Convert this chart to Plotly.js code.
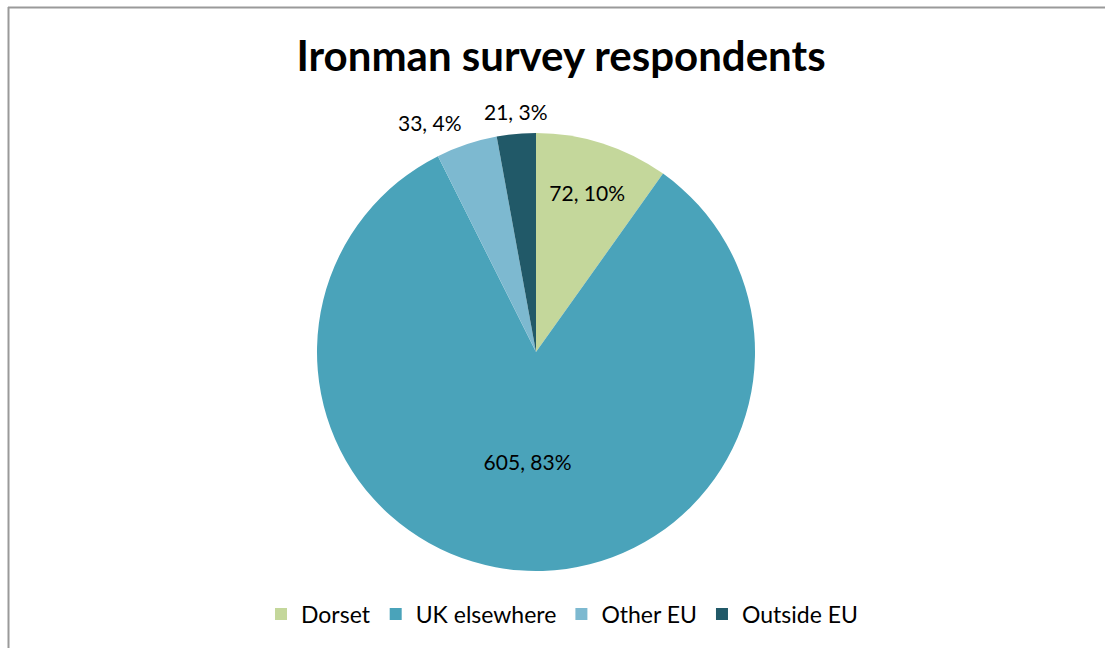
<!DOCTYPE html>
<html><head><meta charset="utf-8">
<script src="https://cdn.plot.ly/plotly-3.0.1.min.js"></script>
<style>html,body{margin:0;padding:0;background:#fff}#chart{width:1105px;height:648px}</style>
</head><body><div id="chart"></div>
<script>
const categories = ['Dorset', 'UK elsewhere', 'Other EU', 'Outside EU'];
const counts = [72, 605, 33, 21];
const pctLabels = ['10%', '83%', '4%', '3%'];
const colors = ['#C4D79B', '#4AA3BA', '#7DB9D0', '#215968'];
const labelPlacement = ['inside', 'inside', 'outside', 'outside'];

const W = 1105, H = 648;
const cx = 536, cy = 352, r = 219;
const FONT = 'Lato, "Open Sans", sans-serif';
const labels = counts.map((v, i) => v + ', ' + pctLabels[i]);

// outside labels drawn as annotations at each slice's mid-angle (from the data)
const total = counts.reduce((a, b) => a + b, 0);
let cum = 0;
const annotations = [];
counts.forEach((v, i) => {
  const mid = (cum + v / 2) / total * 2 * Math.PI; // clockwise from 12 o'clock
  cum += v;
  if (labelPlacement[i] !== 'outside') return;
  const rr = r + 8;
  const px = cx + rr * Math.sin(mid);
  const py = cy - rr * Math.cos(mid);
  const s = Math.sin(mid);
  annotations.push({
    xref: 'paper', yref: 'paper', x: px / W, y: 1 - py / H,
    text: labels[i], showarrow: false,
    xanchor: Math.abs(s) < 0.2 ? 'center' : (s < 0 ? 'right' : 'left'),
    yanchor: Math.cos(mid) > 0 ? 'bottom' : 'top',
    font: { family: FONT, size: 21, color: '#000' }
  });
});

const trace = {
  type: 'pie',
  labels: categories,
  values: counts,
  text: labels,
  textinfo: 'text',
  textposition: labelPlacement.map(p => p === 'inside' ? 'inside' : 'none'),
  insidetextorientation: 'horizontal',
  sort: false,
  direction: 'clockwise',
  rotation: 0,
  marker: { colors: colors, line: { width: 0 } },
  insidetextfont: { family: FONT, size: 21, color: '#000' },
  domain: { x: [(cx - r) / W, (cx + r) / W], y: [(H - cy - r) / H, (H - cy + r) / H] },
  hoverinfo: 'none'
};

const layout = {
  width: W, height: H,
  margin: { l: 0, r: 0, t: 0, b: 0 },
  paper_bgcolor: '#fff',
  title: {
    text: '<b>Ironman survey respondents</b>',
    font: { family: FONT, size: 42, color: '#000' },
    x: 561 / W, xanchor: 'center', y: 1 - 56 / H, yanchor: 'middle'
  },
  showlegend: true,
  legend: {
    orientation: 'h', x: 562 / W, xanchor: 'center', y: 34 / H, yanchor: 'middle',
    font: { family: FONT, size: 23, color: '#000' },
    itemwidth: 30, traceorder: 'normal'
  },
  annotations: annotations,
  shapes: [
    { type: 'line', xref: 'paper', yref: 'paper', x0: 8 / W, x1: 1, y0: 1 - 7.5 / H, y1: 1 - 7.5 / H, line: { color: '#9a9a9a', width: 2 } },
    { type: 'line', xref: 'paper', yref: 'paper', x0: 8.5 / W, x1: 8.5 / W, y0: 0, y1: 1 - 7 / H, line: { color: '#9a9a9a', width: 2 } }
  ]
};

Plotly.newPlot('chart', [trace], layout, { displayModeBar: false, staticPlot: true });
</script></body></html>
